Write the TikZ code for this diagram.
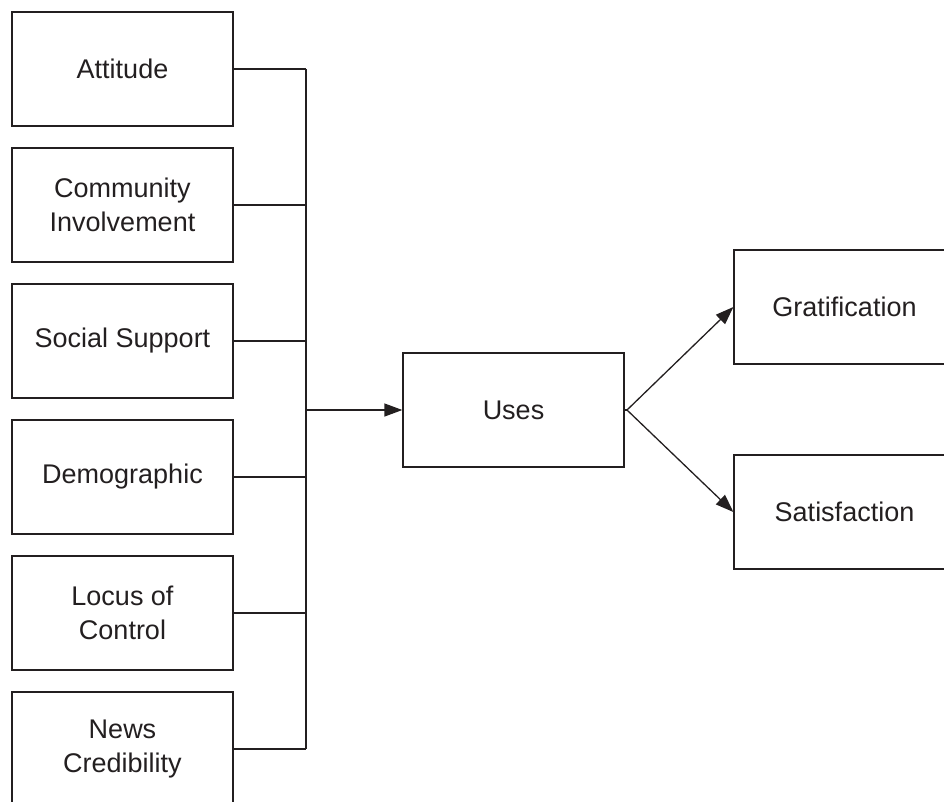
\documentclass[tikz,border=0pt]{standalone}
\usepackage{fontspec}
\setmainfont{Liberation Sans}
\usetikzlibrary{arrows.meta}
\definecolor{ink}{HTML}{231F20}
\begin{document}
\begin{tikzpicture}[x=1pt,y=-1pt,
  box/.style={draw=ink,line width=1.3pt,minimum width=221pt,minimum height=114pt,inner sep=0pt,align=center,text=ink,font=\fontsize{27}{34}\selectfont},
  conn/.style={draw=ink,line width=1.3pt},
  arr/.style={conn,-{Triangle[length=18pt,width=13pt]}}]
\useasboundingbox (0,0) rectangle (944,801);
\clip (0,0) rectangle (944,801);
\node[box] (att) at (122.5,69) {Attitude};
\node[box] (com) at (122.5,205) {Community\\Involvement};
\node[box] (soc) at (122.5,341) {Social Support};
\node[box] (dem) at (122.5,477) {Demographic};
\node[box] (loc) at (122.5,613) {Locus of\\Control};
\node[box] (new) at (122.5,749) {News\\Credibility};
\node[box] (uses) at (513.5,410) {Uses};
\node[box] (grat) at (844.5,307) {Gratification};
\node[box] (sat) at (844.5,512) {Satisfaction};
\coordinate (bus) at (306,410);
\coordinate (br) at (627,410);
\foreach \n in {att,com,soc,dem,loc,new}
  \draw[conn] (\n.east) -- (\n.east -| bus);
\draw[conn] (att.east -| bus) -- (new.east -| bus);
\draw[arr] (bus) -- (uses.west);
\draw[conn] (uses.east) -- (br);
\draw[arr] (br) -- (grat.west);
\draw[arr] (br) -- (sat.west);
\end{tikzpicture}
\end{document}
